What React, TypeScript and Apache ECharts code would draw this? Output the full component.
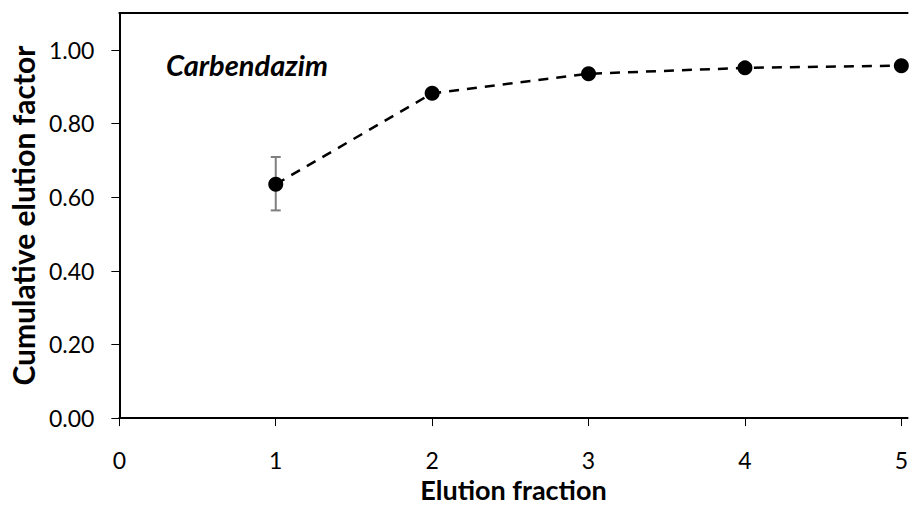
import React, { useEffect, useRef } from "react";
import * as echarts from "echarts";

const fractions = [1, 2, 3, 4, 5];
const cumulativeFactor = [0.635, 0.882, 0.935, 0.951, 0.957];
const errorLow = [0.564, null, null, null, null];
const errorHigh = [0.709, null, null, null, null];
const xTicks = [0, 1, 2, 3, 4, 5];
const yTicks = [0, 0.2, 0.4, 0.6, 0.8, 1.0];
const compoundLabel = "Carbendazim";

const FONT = "Lato, 'Open Sans', sans-serif";

export default function App() {
  const ref = useRef<HTMLDivElement>(null);
  useEffect(() => {
    document.body.style.margin = "0";
    const chart = echarts.init(ref.current!, null, { renderer: "svg" });
    const errData = fractions
      .map((f, i) => [f, errorLow[i], errorHigh[i]])
      .filter((d) => d[1] != null);
    chart.setOption({
      animation: false,
      backgroundColor: "#fff",
      grid: { left: 118, top: 13, right: 0, bottom: 82, show: false },
      xAxis: [
        {
          type: "value",
          min: 0,
          max: 5.04,
          interval: 1,
          name: "Elution fraction",
          nameLocation: "middle",
          nameGap: 54,
          nameTextStyle: { fontFamily: FONT, fontWeight: "bold", fontSize: 27, color: "#000" },
          axisLine: { show: true, onZero: false, lineStyle: { color: "#000", width: 2 } },
          axisTick: { show: true, length: 8, lineStyle: { color: "#000", width: 1 }, customValues: xTicks },
          axisLabel: { fontFamily: FONT, fontSize: 23, color: "#000", margin: 30, customValues: xTicks, formatter: (v: number) => String(v) },
          splitLine: { show: false },
        },
        {
          type: "value",
          position: "top",
          min: 0,
          max: 5.04,
          axisLine: { show: true, onZero: false, lineStyle: { color: "#000", width: 2 } },
          axisTick: { show: false },
          axisLabel: { show: false },
          splitLine: { show: false },
        },
      ],
      yAxis: {
        type: "value",
        min: 0,
        max: 1.1,
        interval: 0.2,
        name: "Cumulative elution factor",
        nameLocation: "middle",
        nameGap: 80,
        nameRotate: 90,
        nameTextStyle: { fontFamily: FONT, fontWeight: "bold", fontSize: 30, color: "#000" },
        axisLine: { show: true, onZero: false, lineStyle: { color: "#000", width: 2 } },
        axisTick: { show: true, length: 8, lineStyle: { color: "#000", width: 1 }, customValues: yTicks },
        axisLabel: { fontFamily: FONT, fontSize: 23, color: "#000", margin: 25, customValues: yTicks, formatter: (v: number) => v.toFixed(2) },
        splitLine: { show: false },
      },
      graphic: [
        {
          type: "text",
          left: 166,
          top: 50,
          style: { text: compoundLabel, fontFamily: FONT, fontWeight: "bold", fontStyle: "italic", fontSize: 29, fill: "#000" },
        },
      ],
      series: [
        {
          type: "custom",
          xAxisIndex: 0,
          data: errData,
          z: 1,
          renderItem: (params: any, api: any) => {
            const x = api.value(0);
            const lo = api.coord([x, api.value(1)]);
            const hi = api.coord([x, api.value(2)]);
            const w = 5;
            const style = { stroke: "#7f7f7f", lineWidth: 2 };
            return {
              type: "group",
              children: [
                { type: "line", shape: { x1: lo[0], y1: lo[1], x2: hi[0], y2: hi[1] }, style },
                { type: "line", shape: { x1: lo[0] - w, y1: lo[1], x2: lo[0] + w, y2: lo[1] }, style },
                { type: "line", shape: { x1: hi[0] - w, y1: hi[1], x2: hi[0] + w, y2: hi[1] }, style },
              ],
            };
          },
        },
        {
          type: "line",
          xAxisIndex: 0,
          data: fractions.map((f, i) => [f, cumulativeFactor[i]]),
          symbol: "circle",
          symbolSize: 15,
          itemStyle: { color: "#000" },
          lineStyle: { color: "#000", width: 2.5, type: [10, 8] },
          z: 3,
        },
      ],
    });
    return () => chart.dispose();
  }, []);
  return <div ref={ref} style={{ width: 911, height: 508, position: "fixed", left: 0, top: 0 }} />;
}
